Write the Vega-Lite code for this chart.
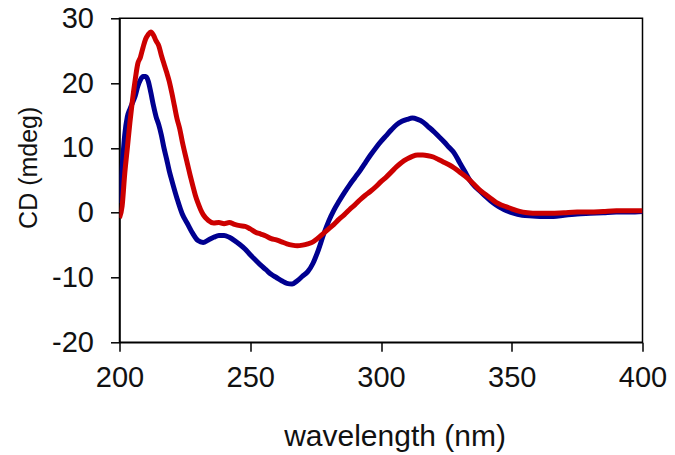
{
  "$schema": "https://vega.github.io/schema/vega-lite/v6.json",
  "width": 523,
  "height": 324,
  "autosize": {"type": "none"},
  "padding": {"left": 119.5, "top": 18.3, "right": 32.5, "bottom": 112.7},
  "background": "white",
  "config": {
    "view": {"stroke": "#000000", "strokeWidth": 1.5},
    "font": "Liberation Sans",
    "axis": {
      "grid": false,
      "domainColor": "#000000",
      "domainWidth": 1.5,
      "tickColor": "#000000",
      "tickWidth": 1.5,
      "tickSize": 9,
      "labelFlush": false,
      "labelOverlap": false,
      "labelFont": "Liberation Sans",
      "labelFontSize": 29,
      "labelColor": "#111111",
      "labelExpr": "'' + datum.value",
      "titleFont": "Liberation Sans",
      "titleFontWeight": "normal",
      "titleColor": "#111111"
    }
  },
  "datasets": {
    "cd": [
      {"s": "A", "wl": 200, "cd": 1.5}, {"s": "A", "wl": 201, "cd": 7}, {"s": "A", "wl": 202, "cd": 12}, {"s": "A", "wl": 203, "cd": 14.8},
      {"s": "A", "wl": 204, "cd": 16}, {"s": "A", "wl": 205, "cd": 17}, {"s": "A", "wl": 206, "cd": 18}, {"s": "A", "wl": 207, "cd": 19.5},
      {"s": "A", "wl": 208, "cd": 20.5}, {"s": "A", "wl": 209, "cd": 21}, {"s": "A", "wl": 210, "cd": 21}, {"s": "A", "wl": 211, "cd": 20.3},
      {"s": "A", "wl": 212, "cd": 18.5}, {"s": "A", "wl": 213, "cd": 16.5}, {"s": "A", "wl": 214, "cd": 14.8}, {"s": "A", "wl": 215, "cd": 13.6},
      {"s": "A", "wl": 216, "cd": 12}, {"s": "A", "wl": 217, "cd": 10}, {"s": "A", "wl": 218, "cd": 8.3}, {"s": "A", "wl": 219, "cd": 6.5},
      {"s": "A", "wl": 220, "cd": 5}, {"s": "A", "wl": 222, "cd": 2.2}, {"s": "A", "wl": 224, "cd": -0.2}, {"s": "A", "wl": 226, "cd": -1.7},
      {"s": "A", "wl": 228, "cd": -3.2}, {"s": "A", "wl": 230, "cd": -4.3}, {"s": "A", "wl": 232, "cd": -4.6}, {"s": "A", "wl": 234, "cd": -4.2},
      {"s": "A", "wl": 236, "cd": -3.8}, {"s": "A", "wl": 238, "cd": -3.5}, {"s": "A", "wl": 240, "cd": -3.5}, {"s": "A", "wl": 242, "cd": -3.8},
      {"s": "A", "wl": 244, "cd": -4.3}, {"s": "A", "wl": 246, "cd": -4.9}, {"s": "A", "wl": 248, "cd": -5.6}, {"s": "A", "wl": 250, "cd": -6.5},
      {"s": "A", "wl": 252, "cd": -7.3}, {"s": "A", "wl": 254, "cd": -8.1}, {"s": "A", "wl": 256, "cd": -8.8}, {"s": "A", "wl": 258, "cd": -9.5},
      {"s": "A", "wl": 260, "cd": -10}, {"s": "A", "wl": 262, "cd": -10.5}, {"s": "A", "wl": 264, "cd": -10.9}, {"s": "A", "wl": 266, "cd": -11},
      {"s": "A", "wl": 268, "cd": -10.5}, {"s": "A", "wl": 270, "cd": -9.8}, {"s": "A", "wl": 272, "cd": -9.1}, {"s": "A", "wl": 274, "cd": -7.8},
      {"s": "A", "wl": 276, "cd": -5.8}, {"s": "A", "wl": 278, "cd": -3.4}, {"s": "A", "wl": 280, "cd": -1.3}, {"s": "A", "wl": 282, "cd": 0.4},
      {"s": "A", "wl": 284, "cd": 1.8}, {"s": "A", "wl": 286, "cd": 3.1}, {"s": "A", "wl": 288, "cd": 4.3}, {"s": "A", "wl": 290, "cd": 5.4},
      {"s": "A", "wl": 292, "cd": 6.5}, {"s": "A", "wl": 294, "cd": 7.7}, {"s": "A", "wl": 296, "cd": 8.9}, {"s": "A", "wl": 298, "cd": 10},
      {"s": "A", "wl": 300, "cd": 11}, {"s": "A", "wl": 302, "cd": 11.9}, {"s": "A", "wl": 304, "cd": 12.8}, {"s": "A", "wl": 306, "cd": 13.6},
      {"s": "A", "wl": 308, "cd": 14.1}, {"s": "A", "wl": 310, "cd": 14.4}, {"s": "A", "wl": 312, "cd": 14.6}, {"s": "A", "wl": 314, "cd": 14.4},
      {"s": "A", "wl": 316, "cd": 14}, {"s": "A", "wl": 318, "cd": 13.3}, {"s": "A", "wl": 320, "cd": 12.6}, {"s": "A", "wl": 322, "cd": 11.8},
      {"s": "A", "wl": 324, "cd": 11}, {"s": "A", "wl": 326, "cd": 10.1}, {"s": "A", "wl": 328, "cd": 9.2}, {"s": "A", "wl": 330, "cd": 7.8},
      {"s": "A", "wl": 332, "cd": 6.4}, {"s": "A", "wl": 334, "cd": 5.0}, {"s": "A", "wl": 336, "cd": 4.0}, {"s": "A", "wl": 338, "cd": 3.3},
      {"s": "A", "wl": 340, "cd": 2.5}, {"s": "A", "wl": 342, "cd": 1.8}, {"s": "A", "wl": 344, "cd": 1.2}, {"s": "A", "wl": 346, "cd": 0.7},
      {"s": "A", "wl": 348, "cd": 0.3}, {"s": "A", "wl": 350, "cd": 0}, {"s": "A", "wl": 354, "cd": -0.4}, {"s": "A", "wl": 358, "cd": -0.5},
      {"s": "A", "wl": 362, "cd": -0.6}, {"s": "A", "wl": 366, "cd": -0.6}, {"s": "A", "wl": 370, "cd": -0.4}, {"s": "A", "wl": 375, "cd": -0.2},
      {"s": "A", "wl": 380, "cd": -0.1}, {"s": "A", "wl": 385, "cd": 0}, {"s": "A", "wl": 390, "cd": 0.1}, {"s": "A", "wl": 395, "cd": 0.1},
      {"s": "A", "wl": 400, "cd": 0.2},
      {"s": "B", "wl": 200, "cd": -0.8}, {"s": "B", "wl": 201, "cd": 1}, {"s": "B", "wl": 202, "cd": 6}, {"s": "B", "wl": 203, "cd": 10},
      {"s": "B", "wl": 204, "cd": 14}, {"s": "B", "wl": 205, "cd": 17.5}, {"s": "B", "wl": 206, "cd": 20.5}, {"s": "B", "wl": 207, "cd": 23},
      {"s": "B", "wl": 208, "cd": 24}, {"s": "B", "wl": 209, "cd": 25.5}, {"s": "B", "wl": 210, "cd": 26.8}, {"s": "B", "wl": 211, "cd": 27.5},
      {"s": "B", "wl": 212, "cd": 27.9}, {"s": "B", "wl": 213, "cd": 27.4}, {"s": "B", "wl": 214, "cd": 26.5}, {"s": "B", "wl": 215, "cd": 25.8},
      {"s": "B", "wl": 216, "cd": 24.3}, {"s": "B", "wl": 217, "cd": 23}, {"s": "B", "wl": 218, "cd": 21.7}, {"s": "B", "wl": 219, "cd": 20.3},
      {"s": "B", "wl": 220, "cd": 18.5}, {"s": "B", "wl": 221, "cd": 16.5}, {"s": "B", "wl": 222, "cd": 14.5}, {"s": "B", "wl": 223, "cd": 13},
      {"s": "B", "wl": 224, "cd": 11}, {"s": "B", "wl": 225, "cd": 9.2}, {"s": "B", "wl": 226, "cd": 7.5}, {"s": "B", "wl": 227, "cd": 5.8},
      {"s": "B", "wl": 228, "cd": 4.2}, {"s": "B", "wl": 229, "cd": 2.7}, {"s": "B", "wl": 230, "cd": 1.5}, {"s": "B", "wl": 231, "cd": 0.5},
      {"s": "B", "wl": 232, "cd": -0.3}, {"s": "B", "wl": 234, "cd": -1.2}, {"s": "B", "wl": 236, "cd": -1.6}, {"s": "B", "wl": 238, "cd": -1.5},
      {"s": "B", "wl": 240, "cd": -1.7}, {"s": "B", "wl": 242, "cd": -1.5}, {"s": "B", "wl": 244, "cd": -1.8}, {"s": "B", "wl": 246, "cd": -2},
      {"s": "B", "wl": 248, "cd": -2.1}, {"s": "B", "wl": 250, "cd": -2.5}, {"s": "B", "wl": 252, "cd": -3}, {"s": "B", "wl": 254, "cd": -3.3},
      {"s": "B", "wl": 256, "cd": -3.6}, {"s": "B", "wl": 258, "cd": -4}, {"s": "B", "wl": 260, "cd": -4.2}, {"s": "B", "wl": 262, "cd": -4.5},
      {"s": "B", "wl": 264, "cd": -4.8}, {"s": "B", "wl": 266, "cd": -5}, {"s": "B", "wl": 268, "cd": -5.1}, {"s": "B", "wl": 270, "cd": -5},
      {"s": "B", "wl": 272, "cd": -4.8}, {"s": "B", "wl": 274, "cd": -4.5}, {"s": "B", "wl": 276, "cd": -3.9}, {"s": "B", "wl": 278, "cd": -3.2},
      {"s": "B", "wl": 280, "cd": -2.5}, {"s": "B", "wl": 282, "cd": -1.8}, {"s": "B", "wl": 284, "cd": -1}, {"s": "B", "wl": 286, "cd": -0.3},
      {"s": "B", "wl": 288, "cd": 0.5}, {"s": "B", "wl": 290, "cd": 1.2}, {"s": "B", "wl": 292, "cd": 2}, {"s": "B", "wl": 294, "cd": 2.7},
      {"s": "B", "wl": 296, "cd": 3.3}, {"s": "B", "wl": 298, "cd": 4}, {"s": "B", "wl": 300, "cd": 4.8}, {"s": "B", "wl": 302, "cd": 5.5},
      {"s": "B", "wl": 304, "cd": 6.3}, {"s": "B", "wl": 306, "cd": 7.1}, {"s": "B", "wl": 308, "cd": 7.8}, {"s": "B", "wl": 310, "cd": 8.3},
      {"s": "B", "wl": 312, "cd": 8.7}, {"s": "B", "wl": 314, "cd": 8.9}, {"s": "B", "wl": 316, "cd": 8.9}, {"s": "B", "wl": 318, "cd": 8.8},
      {"s": "B", "wl": 320, "cd": 8.6}, {"s": "B", "wl": 322, "cd": 8.2}, {"s": "B", "wl": 324, "cd": 7.8}, {"s": "B", "wl": 326, "cd": 7.4},
      {"s": "B", "wl": 328, "cd": 6.9}, {"s": "B", "wl": 330, "cd": 6.3}, {"s": "B", "wl": 332, "cd": 5.7}, {"s": "B", "wl": 334, "cd": 5.0},
      {"s": "B", "wl": 336, "cd": 4.2}, {"s": "B", "wl": 338, "cd": 3.4}, {"s": "B", "wl": 340, "cd": 2.8}, {"s": "B", "wl": 342, "cd": 2.2},
      {"s": "B", "wl": 344, "cd": 1.6}, {"s": "B", "wl": 346, "cd": 1.2}, {"s": "B", "wl": 348, "cd": 0.9}, {"s": "B", "wl": 350, "cd": 0.6},
      {"s": "B", "wl": 353, "cd": 0.2}, {"s": "B", "wl": 356, "cd": 0}, {"s": "B", "wl": 360, "cd": -0.1}, {"s": "B", "wl": 365, "cd": -0.1},
      {"s": "B", "wl": 370, "cd": 0}, {"s": "B", "wl": 375, "cd": 0.1}, {"s": "B", "wl": 380, "cd": 0.1}, {"s": "B", "wl": 385, "cd": 0.2},
      {"s": "B", "wl": 390, "cd": 0.3}, {"s": "B", "wl": 395, "cd": 0.3}, {"s": "B", "wl": 400, "cd": 0.3}
    ]
  },
  "data": {"name": "cd"},
  "mark": {"type": "line", "strokeWidth": 5, "interpolate": "monotone", "clip": true},
  "encoding": {
    "x": {
      "field": "wl",
      "type": "quantitative",
      "scale": {"domain": [200, 400], "nice": false, "zero": false},
      "axis": {
        "values": [200, 250, 300, 350, 400],
        "title": "wavelength (nm)",
        "titleFontSize": 30,
        "labelPadding": 12,
        "titleX": 275,
        "titleY": 103,
        "titleBaseline": "alphabetic",
        "titleAnchor": null
      }
    },
    "y": {
      "field": "cd",
      "type": "quantitative",
      "scale": {"domain": [-20, 30], "nice": false, "zero": false},
      "axis": {
        "values": [-20, -10, 0, 10, 20, 30],
        "title": "CD (mdeg)",
        "titleFontSize": 25,
        "labelPadding": 17,
        "titleX": -91,
        "titleY": 149,
        "titleAngle": -90,
        "titleAlign": "center",
        "titleBaseline": "middle"
      }
    },
    "color": {
      "field": "s",
      "type": "nominal",
      "scale": {"domain": ["B", "A"], "range": ["#CC0000", "#000090"]},
      "legend": null
    },
    "order": {"field": "wl", "type": "quantitative"}
  }
}
